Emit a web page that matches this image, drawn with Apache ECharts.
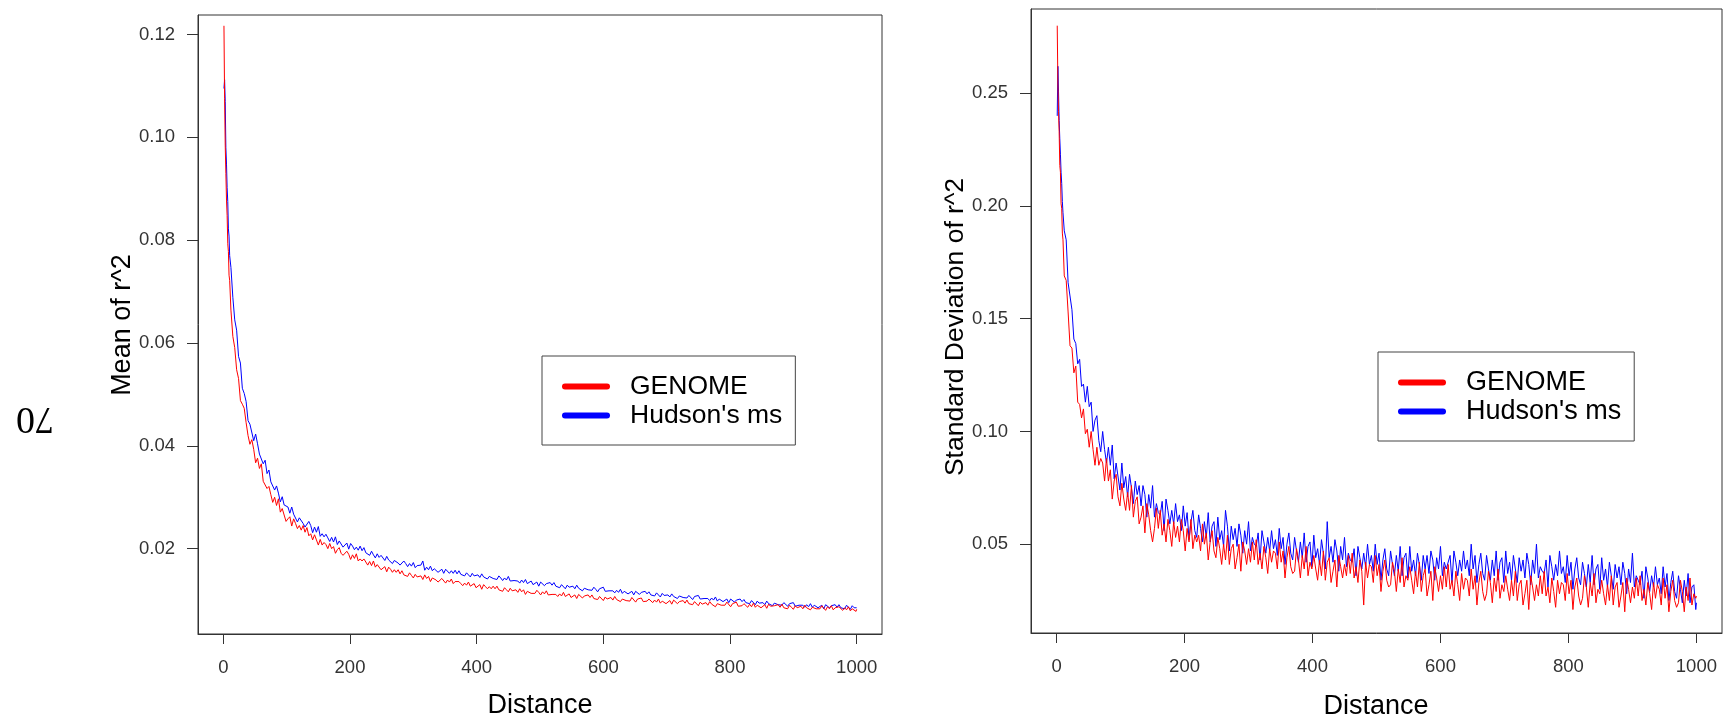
<!DOCTYPE html>
<html><head><meta charset="utf-8">
<script src="https://cdn.jsdelivr.net/npm/echarts@6/dist/echarts.min.js"></script>
<style>html,body{margin:0;padding:0;background:#fff}#c{width:1723px;height:723px}</style>
</head><body><div id="c"></div>
<script>
// Distance values (x)
const distance = [
1,2,3,4,5,6,7,8,9,10,
12,15,18,21,24,27,30,33,36,39,
42,45,48,51,54,57,60,63,66,69,
72,75,78,81,84,87,90,93,96,99,
102,105,108,111,114,117,120,123,126,129,
132,135,138,141,144,147,150,153,156,159,
162,165,168,171,174,177,180,183,186,189,
192,195,198,201,204,207,210,213,216,219,
222,225,228,231,234,237,240,243,246,249,
252,255,258,261,264,267,270,273,276,279,
282,285,288,291,294,297,300,303,306,309,
312,315,318,321,324,327,330,333,336,339,
342,345,348,351,354,357,360,363,366,369,
372,375,378,381,384,387,390,393,396,399,
402,405,408,411,414,417,420,423,426,429,
432,435,438,441,444,447,450,453,456,459,
462,465,468,471,474,477,480,483,486,489,
492,495,498,501,504,507,510,513,516,519,
522,525,528,531,534,537,540,543,546,549,
552,555,558,561,564,567,570,573,576,579,
582,585,588,591,594,597,600,603,606,609,
612,615,618,621,624,627,630,633,636,639,
642,645,648,651,654,657,660,663,666,669,
672,675,678,681,684,687,690,693,696,699,
702,705,708,711,714,717,720,723,726,729,
732,735,738,741,744,747,750,753,756,759,
762,765,768,771,774,777,780,783,786,789,
792,795,798,801,804,807,810,813,816,819,
822,825,828,831,834,837,840,843,846,849,
852,855,858,861,864,867,870,873,876,879,
882,885,888,891,894,897,900,903,906,909,
912,915,918,921,924,927,930,933,936,939,
942,945,948,951,954,957,960,963,966,969,
972,975,978,981,984,987,990,993,996,999,1000];

// Left panel: Mean of r^2
const meanGenome = [
0.1217,0.1075,0.0985,0.0930,0.0878,0.0848,0.0793,0.0778,0.0732,0.0722,
0.0664,0.0613,0.0591,0.0548,0.0531,0.0488,0.0481,0.0473,0.0445,0.0420,
0.0403,0.0412,0.0393,0.0367,0.0376,0.0356,0.0365,0.0331,0.0332,0.0317,
0.0321,0.0305,0.0290,0.0300,0.0284,0.0297,0.0271,0.0278,0.0277,0.0253,
0.0258,0.0262,0.0244,0.0258,0.0249,0.0239,0.0245,0.0236,0.0245,0.0232,
0.0241,0.0225,0.0229,0.0217,0.0227,0.0217,0.0207,0.0218,0.0207,0.0212,
0.0208,0.0200,0.0210,0.0200,0.0204,0.0191,0.0198,0.0202,0.0191,0.0187,
0.0186,0.0195,0.0189,0.0179,0.0188,0.0181,0.0190,0.0176,0.0180,0.0176,
0.0180,0.0174,0.0168,0.0175,0.0167,0.0176,0.0164,0.0169,0.0170,0.0159,
0.0162,0.0165,0.0155,0.0164,0.0160,0.0154,0.0159,0.0154,0.0159,0.0151,
0.0157,0.0149,0.0152,0.0146,0.0153,0.0148,0.0143,0.0150,0.0145,0.0148,
0.0147,0.0140,0.0149,0.0142,0.0146,0.0136,0.0143,0.0145,0.0139,0.0135,
0.0137,0.0142,0.0139,0.0133,0.0139,0.0135,0.0141,0.0132,0.0136,0.0133,
0.0136,0.0132,0.0128,0.0133,0.0129,0.0135,0.0127,0.0130,0.0132,0.0124,
0.0126,0.0130,0.0121,0.0130,0.0126,0.0122,0.0126,0.0122,0.0127,0.0122,
0.0127,0.0120,0.0122,0.0117,0.0124,0.0120,0.0116,0.0123,0.0118,0.0121,
0.0120,0.0115,0.0122,0.0116,0.0120,0.0111,0.0117,0.0120,0.0113,0.0111,
0.0113,0.0119,0.0115,0.0110,0.0116,0.0112,0.0118,0.0110,0.0113,0.0111,
0.0114,0.0111,0.0107,0.0112,0.0108,0.0115,0.0107,0.0110,0.0112,0.0105,
0.0107,0.0110,0.0103,0.0111,0.0108,0.0104,0.0108,0.0105,0.0110,0.0105,
0.0110,0.0103,0.0106,0.0101,0.0107,0.0104,0.0099,0.0106,0.0102,0.0105,
0.0105,0.0100,0.0107,0.0101,0.0104,0.0097,0.0102,0.0105,0.0099,0.0097,
0.0098,0.0105,0.0102,0.0096,0.0102,0.0099,0.0104,0.0097,0.0100,0.0098,
0.0102,0.0099,0.0095,0.0100,0.0096,0.0102,0.0094,0.0098,0.0100,0.0093,
0.0096,0.0099,0.0092,0.0100,0.0097,0.0093,0.0097,0.0094,0.0099,0.0094,
0.0100,0.0093,0.0095,0.0091,0.0097,0.0094,0.0089,0.0096,0.0092,0.0095,
0.0095,0.0090,0.0097,0.0092,0.0095,0.0087,0.0093,0.0096,0.0090,0.0088,
0.0090,0.0096,0.0093,0.0087,0.0093,0.0090,0.0096,0.0088,0.0091,0.0089,
0.0093,0.0090,0.0086,0.0092,0.0087,0.0094,0.0086,0.0090,0.0092,0.0085,
0.0088,0.0091,0.0084,0.0092,0.0088,0.0085,0.0089,0.0086,0.0091,0.0086,
0.0092,0.0085,0.0088,0.0083,0.0090,0.0086,0.0082,0.0089,0.0085,0.0088,
0.0088,0.0083,0.0090,0.0085,0.0088,0.0081,0.0086,0.0089,0.0083,0.0081,
0.0083,0.0089,0.0086,0.0080,0.0087,0.0083,0.0089,0.0081,0.0085,0.0083,
0.0087,0.0084,0.0080,0.0085,0.0081,0.0087,0.0079,0.0083,0.0085,0.0078,0.0082];

const meanHudson = [
0.1095,0.1112,0.1070,0.0980,0.0948,0.0902,0.0875,0.0822,0.0808,0.0770,
0.0747,0.0689,0.0645,0.0625,0.0574,0.0561,0.0512,0.0502,0.0486,0.0449,
0.0442,0.0441,0.0410,0.0423,0.0404,0.0384,0.0386,0.0365,0.0372,0.0346,
0.0353,0.0330,0.0331,0.0314,0.0322,0.0308,0.0291,0.0301,0.0285,0.0287,
0.0281,0.0269,0.0281,0.0267,0.0270,0.0252,0.0260,0.0263,0.0249,0.0242,
0.0243,0.0253,0.0245,0.0231,0.0242,0.0232,0.0243,0.0224,0.0229,0.0223,
0.0228,0.0221,0.0214,0.0222,0.0213,0.0223,0.0208,0.0215,0.0215,0.0203,
0.0207,0.0211,0.0199,0.0210,0.0205,0.0198,0.0203,0.0197,0.0205,0.0196,
0.0202,0.0192,0.0194,0.0187,0.0195,0.0188,0.0182,0.0190,0.0183,0.0187,
0.0184,0.0177,0.0185,0.0178,0.0181,0.0171,0.0177,0.0179,0.0172,0.0168,
0.0169,0.0176,0.0171,0.0165,0.0171,0.0166,0.0173,0.0163,0.0167,0.0164,
0.0168,0.0176,0.0158,0.0164,0.0159,0.0166,0.0157,0.0161,0.0163,0.0154,
0.0157,0.0160,0.0152,0.0160,0.0157,0.0152,0.0157,0.0152,0.0158,0.0151,
0.0157,0.0150,0.0152,0.0147,0.0153,0.0150,0.0145,0.0152,0.0147,0.0150,
0.0149,0.0144,0.0151,0.0145,0.0148,0.0141,0.0146,0.0149,0.0142,0.0140,
0.0140,0.0147,0.0143,0.0138,0.0143,0.0139,0.0146,0.0137,0.0140,0.0138,
0.0141,0.0137,0.0133,0.0139,0.0134,0.0140,0.0132,0.0135,0.0137,0.0130,
0.0132,0.0135,0.0127,0.0135,0.0132,0.0128,0.0132,0.0129,0.0134,0.0129,
0.0134,0.0127,0.0129,0.0124,0.0130,0.0127,0.0122,0.0129,0.0125,0.0128,
0.0127,0.0122,0.0129,0.0123,0.0126,0.0118,0.0123,0.0126,0.0120,0.0118,
0.0119,0.0125,0.0121,0.0116,0.0122,0.0119,0.0125,0.0117,0.0120,0.0118,
0.0121,0.0118,0.0114,0.0119,0.0115,0.0121,0.0113,0.0117,0.0119,0.0112,
0.0114,0.0117,0.0110,0.0117,0.0115,0.0111,0.0115,0.0112,0.0117,0.0112,
0.0116,0.0110,0.0112,0.0108,0.0114,0.0111,0.0106,0.0113,0.0109,0.0112,
0.0110,0.0106,0.0112,0.0107,0.0110,0.0103,0.0108,0.0111,0.0105,0.0103,
0.0104,0.0109,0.0106,0.0101,0.0107,0.0104,0.0109,0.0102,0.0104,0.0103,
0.0106,0.0103,0.0099,0.0104,0.0100,0.0106,0.0098,0.0102,0.0104,0.0097,
0.0099,0.0102,0.0095,0.0102,0.0100,0.0096,0.0100,0.0097,0.0102,0.0097,
0.0101,0.0095,0.0097,0.0093,0.0099,0.0096,0.0091,0.0098,0.0094,0.0097,
0.0095,0.0091,0.0098,0.0093,0.0096,0.0089,0.0094,0.0096,0.0091,0.0090,
0.0090,0.0095,0.0093,0.0088,0.0093,0.0090,0.0095,0.0088,0.0091,0.0090,
0.0093,0.0090,0.0086,0.0091,0.0087,0.0093,0.0086,0.0090,0.0091,0.0085,
0.0087,0.0090,0.0083,0.0091,0.0088,0.0085,0.0089,0.0086,0.0091,0.0086,
0.0091,0.0085,0.0088,0.0083,0.0090,0.0087,0.0082,0.0089,0.0085,0.0088,0.0085];

// Right panel: Standard Deviation of r^2
const sdGenome = [
0.2800,0.2550,0.2420,0.2330,0.2180,0.2150,0.2010,0.1990,0.1880,0.1850,
0.169,0.167,0.153,0.138,0.137,0.126,0.129,0.113,0.112,0.106,
0.110,0.099,0.101,0.093,0.100,0.092,0.085,0.093,0.085,0.088,
0.086,0.078,0.088,0.078,0.083,0.070,0.078,0.081,0.071,0.067,
0.077,0.070,0.065,0.073,0.065,0.076,0.062,0.069,0.071,0.059,
0.062,0.067,0.055,0.068,0.063,0.056,0.051,0.057,0.066,0.057,
0.065,0.054,0.059,0.051,0.061,0.056,0.049,0.060,0.053,0.058,
0.051,0.061,0.056,0.047,0.057,0.051,0.061,0.048,0.054,0.051,
0.054,0.047,0.059,0.050,0.055,0.043,0.051,0.056,0.047,0.044,
0.053,0.048,0.041,0.050,0.043,0.054,0.041,0.048,0.050,0.039,
0.044,0.050,0.038,0.051,0.047,0.041,0.048,0.042,0.051,0.043,
0.052,0.041,0.046,0.039,0.049,0.044,0.037,0.048,0.042,0.047,
0.046,0.039,0.051,0.042,0.047,0.035,0.044,0.049,0.040,0.037,
0.038,0.048,0.043,0.035,0.045,0.039,0.049,0.036,0.042,0.039,
0.045,0.039,0.034,0.043,0.036,0.047,0.034,0.042,0.044,0.033,
0.038,0.043,0.031,0.045,0.040,0.035,0.041,0.036,0.045,0.037,
0.046,0.035,0.040,0.033,0.043,0.038,0.023,0.042,0.035,0.041,
0.040,0.033,0.045,0.036,0.041,0.029,0.038,0.043,0.034,0.031,
0.032,0.042,0.038,0.029,0.039,0.033,0.044,0.031,0.036,0.034,
0.040,0.034,0.028,0.038,0.031,0.042,0.029,0.036,0.039,0.027,
0.032,0.038,0.025,0.040,0.035,0.029,0.036,0.030,0.040,0.031,
0.041,0.030,0.034,0.027,0.038,0.032,0.025,0.037,0.030,0.035,
0.034,0.027,0.039,0.030,0.036,0.023,0.033,0.038,0.029,0.025,
0.028,0.038,0.033,0.024,0.035,0.029,0.039,0.026,0.032,0.029,
0.036,0.030,0.025,0.034,0.027,0.038,0.025,0.032,0.034,0.023,
0.028,0.034,0.021,0.036,0.031,0.025,0.032,0.027,0.036,0.028,
0.038,0.027,0.031,0.024,0.035,0.029,0.022,0.034,0.028,0.033,
0.032,0.025,0.037,0.028,0.034,0.021,0.031,0.035,0.027,0.023,
0.026,0.036,0.031,0.022,0.033,0.027,0.037,0.024,0.030,0.028,
0.034,0.028,0.023,0.032,0.025,0.036,0.023,0.031,0.033,0.022,
0.027,0.033,0.020,0.035,0.030,0.024,0.031,0.026,0.035,0.027,
0.036,0.025,0.030,0.023,0.033,0.028,0.021,0.033,0.026,0.032,
0.030,0.023,0.035,0.026,0.032,0.020,0.029,0.034,0.025,0.022,
0.024,0.034,0.029,0.020,0.031,0.025,0.035,0.023,0.028,0.026,0.027];

const sdHudson = [
0.2400,0.2620,0.2510,0.2380,0.2300,0.2230,0.2150,0.2100,0.2020,0.1970,
0.189,0.185,0.166,0.166,0.154,0.141,0.139,0.130,0.132,0.120,
0.121,0.113,0.120,0.111,0.113,0.100,0.105,0.107,0.096,0.091,
0.100,0.092,0.086,0.093,0.085,0.094,0.079,0.086,0.086,0.074,
0.086,0.075,0.080,0.071,0.081,0.075,0.068,0.078,0.072,0.076,
0.067,0.076,0.072,0.062,0.072,0.066,0.076,0.062,0.068,0.064,
0.063,0.069,0.056,0.070,0.065,0.059,0.065,0.059,0.068,0.060,
0.063,0.056,0.067,0.058,0.064,0.052,0.060,0.065,0.056,0.053,
0.063,0.057,0.051,0.060,0.053,0.064,0.051,0.058,0.060,0.049,
0.062,0.052,0.056,0.049,0.065,0.058,0.047,0.058,0.052,0.057,
0.049,0.059,0.054,0.046,0.056,0.050,0.060,0.047,0.053,0.050,
0.049,0.055,0.043,0.056,0.051,0.046,0.053,0.047,0.056,0.048,
0.052,0.045,0.057,0.048,0.053,0.041,0.050,0.055,0.046,0.043,
0.053,0.047,0.042,0.051,0.044,0.055,0.042,0.049,0.051,0.040,
0.054,0.044,0.048,0.041,0.052,0.046,0.039,0.060,0.044,0.049,
0.042,0.052,0.047,0.038,0.049,0.043,0.053,0.040,0.046,0.043,
0.042,0.048,0.036,0.049,0.044,0.039,0.046,0.040,0.050,0.041,
0.045,0.038,0.050,0.041,0.046,0.034,0.043,0.048,0.039,0.036,
0.047,0.041,0.036,0.045,0.038,0.049,0.036,0.044,0.046,0.035,
0.049,0.038,0.043,0.036,0.046,0.041,0.034,0.045,0.039,0.045,
0.037,0.047,0.043,0.034,0.044,0.039,0.049,0.036,0.042,0.039,
0.039,0.045,0.033,0.047,0.042,0.036,0.043,0.038,0.047,0.039,
0.043,0.036,0.050,0.039,0.045,0.033,0.041,0.046,0.037,0.034,
0.045,0.039,0.034,0.043,0.036,0.047,0.034,0.042,0.044,0.033,
0.047,0.037,0.042,0.034,0.045,0.039,0.033,0.044,0.038,0.043,
0.035,0.046,0.041,0.032,0.043,0.037,0.050,0.035,0.040,0.038,
0.037,0.043,0.031,0.045,0.040,0.034,0.041,0.036,0.047,0.037,
0.040,0.033,0.045,0.036,0.042,0.030,0.039,0.044,0.035,0.032,
0.042,0.037,0.031,0.041,0.033,0.045,0.032,0.039,0.041,0.030,
0.044,0.034,0.039,0.031,0.042,0.036,0.030,0.041,0.035,0.040,
0.032,0.042,0.037,0.028,0.039,0.033,0.046,0.031,0.036,0.034,
0.032,0.038,0.026,0.040,0.035,0.029,0.036,0.031,0.040,0.032,
0.035,0.028,0.040,0.031,0.037,0.025,0.033,0.038,0.029,0.026,
0.036,0.030,0.024,0.034,0.027,0.037,0.024,0.031,0.032,0.021,0.024];

const xTicks = [0, 200, 400, 600, 800, 1000];
const meanTicks = [0.02, 0.04, 0.06, 0.08, 0.10, 0.12];
const sdTicks = [0.05, 0.10, 0.15, 0.20, 0.25];
const seriesNames = ['GENOME', "Hudson's ms"];
const xTitle = 'Distance';
const meanTitle = 'Mean of r^2';
const sdTitle = 'Standard Deviation of r^2';
const sideText = '70';

const FONT = "'Liberation Sans', Arial, sans-serif";
const AX = '#333';
const RED = '#FF0000', BLUE = '#0000FF';

function xAxisCfg(gi) {
  return {
    type: 'value', gridIndex: gi, min: -40, max: 1040,
    axisLine: { show: true, onZero: false, lineStyle: { color: AX, width: 1 } },
    axisTick: { show: true, customValues: xTicks, length: 10, lineStyle: { color: AX, width: 1 } },
    axisLabel: { customValues: xTicks, margin: 24, fontSize: 18.5, fontFamily: FONT, color: '#333',
      formatter: v => String(v) },
    splitLine: { show: false }
  };
}
function yAxisCfg(gi, mn, mx, ticks) {
  return {
    type: 'value', gridIndex: gi, min: mn, max: mx,
    axisLine: { show: true, onZero: false, lineStyle: { color: AX, width: 1 } },
    axisTick: { show: true, customValues: ticks, length: 11, lineStyle: { color: AX, width: 1 } },
    axisLabel: { customValues: ticks, margin: 23, fontSize: 18.5, fontFamily: FONT, color: '#333',
      formatter: v => Number(v).toFixed(2) },
    splitLine: { show: false }
  };
}
function pairs(arr) {
  if (arr.length !== distance.length) console.error('length mismatch', arr.length, distance.length);
  return distance.map((d, i) => [d, arr[i]]);
}
function lineSeries(name, color, xi, arr) {
  return { type: 'line', name, xAxisIndex: xi, yAxisIndex: xi, data: pairs(arr),
    showSymbol: false, symbol: 'none', color, lineStyle: { color, width: 1 }, animation: false, silent: true };
}
const barIcon = 'path://M3,0L45,0A3,3,0,0,1,45,6L3,6A3,3,0,0,1,3,0Z';
function legendCfg(left, top, fs) {
  return {
    orient: 'vertical', left, top, selectedMode: false,
    data: [{ name: seriesNames[0], itemStyle: { color: RED } }, { name: seriesNames[1], itemStyle: { color: BLUE } }],
    icon: barIcon, itemWidth: 48, itemHeight: 6, itemGap: 2,
    padding: [17, 13, 16, 20],
    borderColor: '#444', borderWidth: 1, backgroundColor: '#fff',
    textStyle: { fontSize: fs, fontFamily: FONT, color: '#000', padding: [0, 0, 0, 15] }
  };
}
function txt(text, x, y, fs, rot, family) {
  return { type: 'text', x, y, rotation: rot || 0, silent: true,
    style: { text, fontSize: fs, fontFamily: family || FONT, fill: '#000',
      align: 'center', verticalAlign: 'middle', textAlign: 'center', textVerticalAlign: 'middle' } };
}

const chart = echarts.init(document.getElementById('c'), null, { renderer: 'canvas' });
chart.setOption({
  animation: false,
  backgroundColor: '#fff',
  grid: [
    { left: 198, top: 15, width: 684, height: 619, show: true, borderColor: AX, borderWidth: 1, backgroundColor: 'transparent' },
    { left: 1031, top: 9, width: 691, height: 624, show: true, borderColor: AX, borderWidth: 1, backgroundColor: 'transparent' }
  ],
  xAxis: [xAxisCfg(0), xAxisCfg(1)],
  yAxis: [yAxisCfg(0, 0.0034, 0.1238, meanTicks), yAxisCfg(1, 0.0106, 0.2874, sdTicks)],
  legend: [legendCfg(542, 356, 26.5), legendCfg(1378, 352, 27)],
  series: [
    lineSeries(seriesNames[1], BLUE, 0, meanHudson),
    lineSeries(seriesNames[0], RED, 0, meanGenome),
    lineSeries(seriesNames[1], BLUE, 1, sdHudson),
    lineSeries(seriesNames[0], RED, 1, sdGenome)
  ],
  graphic: [
    txt(xTitle, 540, 706, 27),
    txt(xTitle, 1376, 707, 27),
    txt(meanTitle, 123, 325, 27, Math.PI / 2),
    txt(sdTitle, 956, 327, 26.5, Math.PI / 2),
    txt(sideText, 35, 418, 38, Math.PI, "'Liberation Serif', 'Times New Roman', serif")
  ]
});
</script>
</body></html>
